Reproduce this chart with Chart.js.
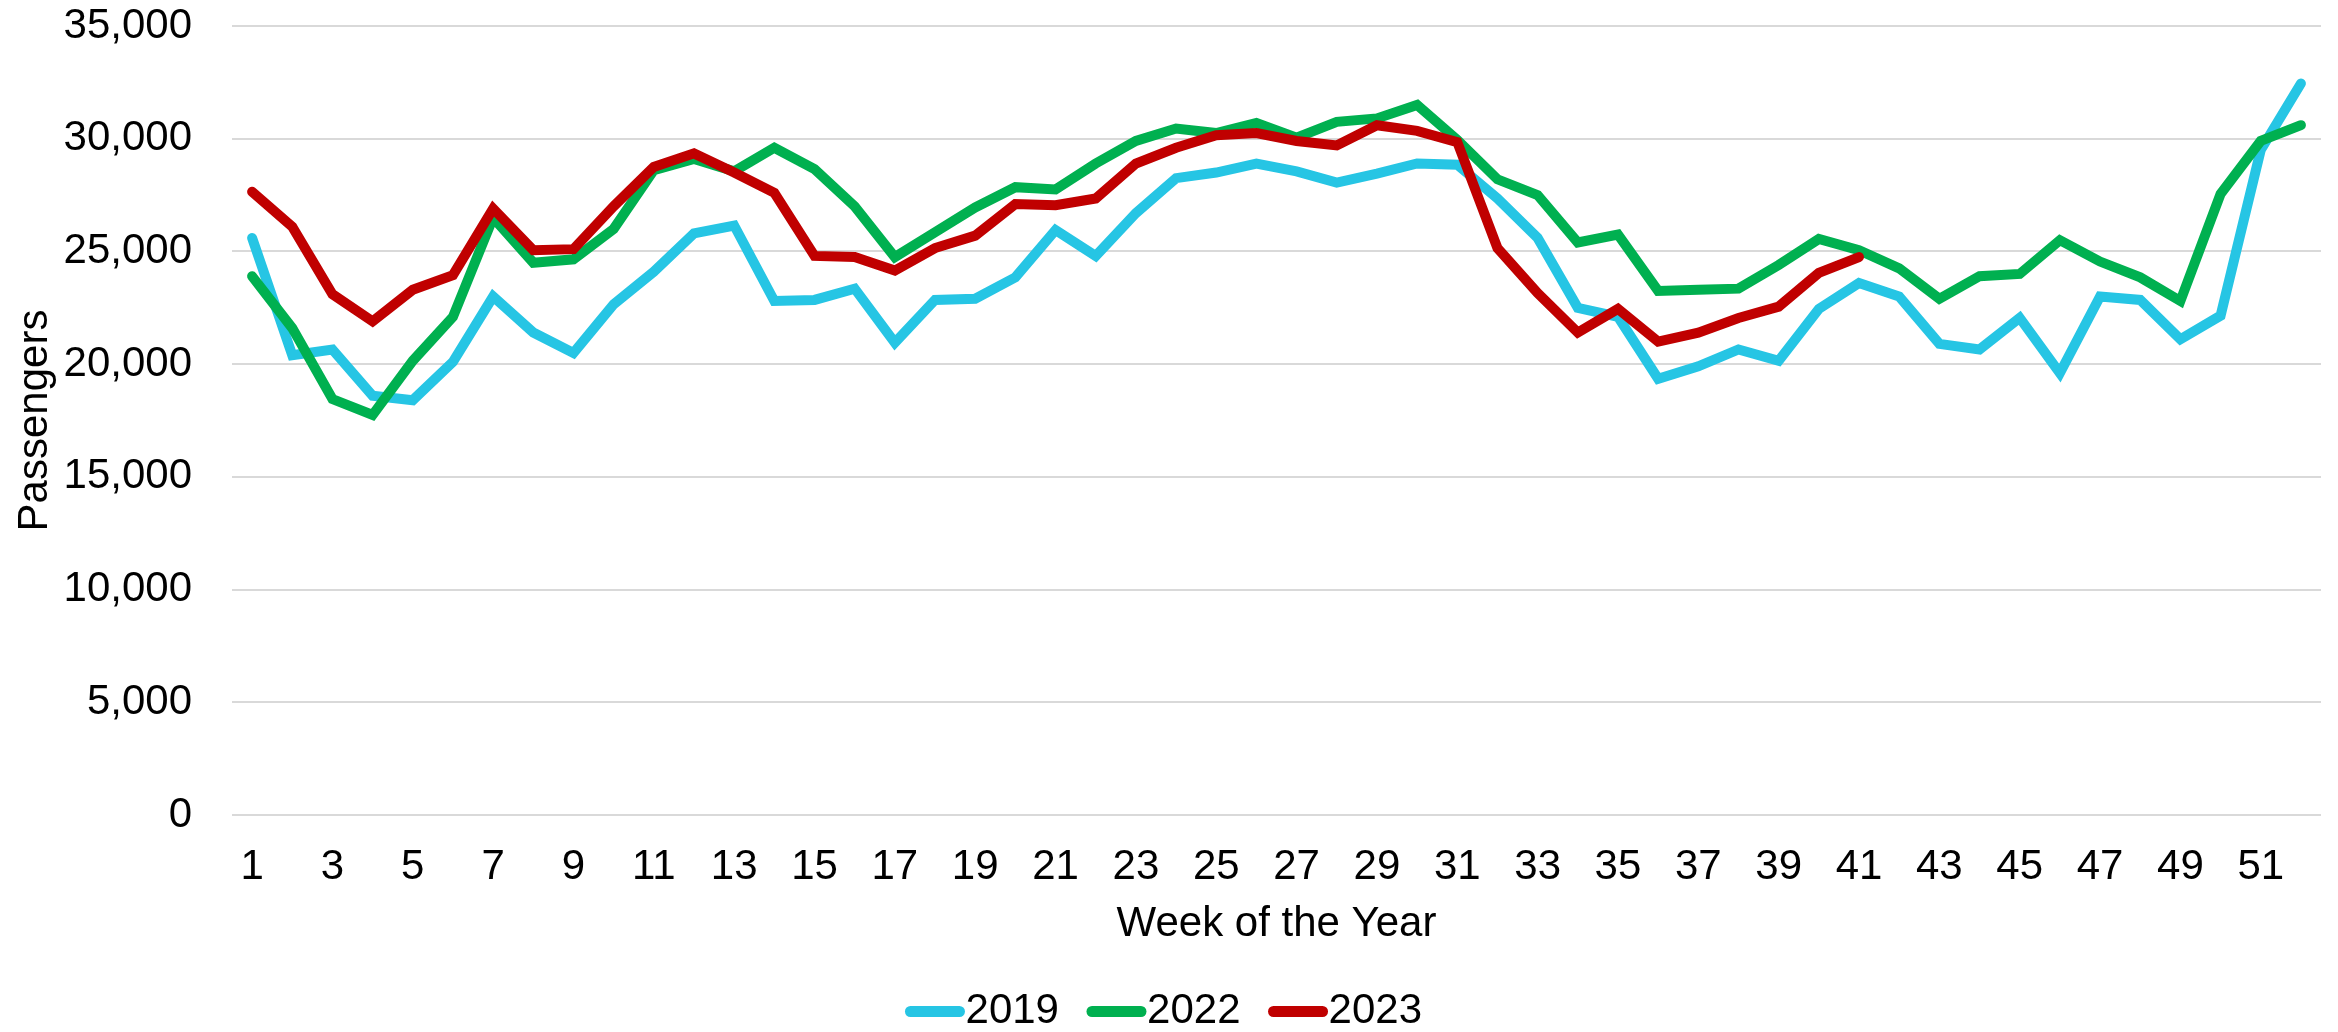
<!DOCTYPE html>
<html>
<head>
<meta charset="utf-8">
<script src="https://cdn.jsdelivr.net/npm/chart.js@4.4.1/dist/chart.umd.min.js"></script>
<style>
  html, body { margin: 0; padding: 0; background: #ffffff; overflow: hidden; }
  #wrap { width: 2338px; height: 1032px; }
</style>
</head>
<body>
<div id="wrap"><canvas id="c" width="2338" height="1032"></canvas></div>
<script>
const weeks = ["1","2","3","4","5","6","7","8","9","10","11","12","13","14","15","16","17","18","19","20","21","22","23","24","25","26","27","28","29","30","31","32","33","34","35","36","37","38","39","40","41","42","43","44","45","46","47","48","49","50","51","52"];

const passengers2019 = [25600, 20400, 20650, 18600, 18400, 20100, 23000, 21400, 20500, 22650, 24100, 25800, 26150, 22800, 22850, 23350, 20950, 22850, 22900, 23850, 25950, 24800, 26700, 28250, 28500, 28900, 28550, 28050, 28450, 28900, 28850, 27350, 25600, 22500, 22100, 19350, 19900, 20650, 20150, 22450, 23600, 23000, 20900, 20650, 22050, 19600, 23000, 22850, 21100, 22150, 29500, 32450];

const passengers2022 = [23900, 21600, 18450, 17750, 20150, 22100, 26500, 24500, 24650, 26000, 28600, 29100, 28550, 29600, 28650, 27000, 24750, 25850, 26950, 27850, 27750, 28900, 29900, 30450, 30250, 30700, 30050, 30750, 30900, 31500, 29950, 28200, 27500, 25400, 25750, 23250, 23300, 23350, 24400, 25550, 25050, 24250, 22900, 23900, 24000, 25500, 24550, 23850, 22800, 27550, 29900, 30600];

const passengers2023 = [27650, 26100, 23100, 21900, 23300, 23950, 26900, 25050, 25100, 27000, 28750, 29350, 28500, 27600, 24800, 24750, 24150, 25150, 25700, 27100, 27050, 27350, 28900, 29600, 30150, 30250, 29900, 29700, 30600, 30350, 29850, 25150, 23150, 21400, 22450, 21000, 21400, 22050, 22550, 24050, 24750];

const seriesNames = ["2019", "2022", "2023"];
const seriesColors = ["#26C5E4", "#00B050", "#C00000"];
const yTicks = [0, 5000, 10000, 15000, 20000, 25000, 30000, 35000];

const FONT = '"Liberation Sans", Arial, sans-serif';
const FS = 42;

const customLegend = {
  id: 'customLegend',
  afterDraw(chart) {
    const ctx = chart.ctx;
    ctx.save();
    ctx.font = FS + 'px ' + FONT;
    const sw = 60, gapText = 0.6, gapItem = 27.5;
    const items = chart.data.datasets.map(d => ({ text: d.label, color: d.borderColor, w: ctx.measureText(d.label).width }));
    let total = 0;
    items.forEach((it, i) => { total += sw + gapText + it.w + (i < items.length - 1 ? gapItem : 0); });
    let x = 1163.5 - total / 2;
    const y = 1011;
    items.forEach(it => {
      ctx.strokeStyle = it.color;
      ctx.lineWidth = 11;
      ctx.lineCap = 'round';
      ctx.beginPath();
      ctx.moveTo(x + 5.5, y + 0.5);
      ctx.lineTo(x + sw - 5.5, y + 0.5);
      ctx.stroke();
      ctx.fillStyle = '#000000';
      ctx.textAlign = 'left';
      ctx.textBaseline = 'middle';
      ctx.fillText(it.text, x + sw + gapText, y);
      x += sw + gapText + it.w + gapItem;
    });
    ctx.restore();
  }
};

const mkDs = (i, data, order) => ({
  label: seriesNames[i],
  data: data,
  borderColor: seriesColors[i],
  backgroundColor: seriesColors[i],
  borderWidth: 10,
  borderCapStyle: 'round',
  borderJoinStyle: 'miter',
  pointRadius: 0,
  pointHoverRadius: 0,
  tension: 0,
  fill: false,
  order: order
});

new Chart(document.getElementById('c'), {
  type: 'line',
  data: {
    labels: weeks,
    datasets: [
      mkDs(0, passengers2019, 2),
      mkDs(1, passengers2022, 1),
      mkDs(2, passengers2023, 0)
    ]
  },
  options: {
    responsive: false,
    animation: false,
    devicePixelRatio: 1,
    events: [],
    layout: { padding: { top: 26, right: 17, bottom: 82, left: 0 } },
    plugins: {
      legend: { display: false },
      tooltip: { enabled: false }
    },
    scales: {
      x: {
        type: 'category',
        offset: true,
        grid: { display: false, drawTicks: false },
        border: { display: false },
        ticks: {
          autoSkip: false,
          maxRotation: 0,
          minRotation: 0,
          padding: 27,
          color: '#000000',
          font: { family: FONT, size: FS },
          callback: function(v, idx) { return idx % 2 === 0 ? weeks[idx] : ''; }
        },
        title: {
          display: true,
          text: 'Week of the Year',
          color: '#000000',
          font: { family: FONT, size: FS },
          padding: { top: 0, bottom: 0 }
        },
        afterFit: (s) => { s.height = 135; s.paddingLeft = 0; s.paddingRight = 0; }
      },
      y: {
        min: 0,
        max: 35000,
        grid: { color: '#D9D9D9', lineWidth: 2, drawTicks: false },
        border: { display: false },
        afterBuildTicks: (s) => { s.ticks = yTicks.map(v => ({ value: v })); },
        ticks: {
          padding: 40,
          color: '#000000',
          font: { family: FONT, size: FS },
          callback: (v) => Number(v).toLocaleString('en-US')
        },
        title: {
          display: true,
          text: 'Passengers',
          color: '#000000',
          font: { family: FONT, size: FS },
          padding: { top: 10, bottom: 0 }
        },
        afterFit: (s) => { s.width = 232; s.paddingTop = 0; s.paddingBottom = 0; }
      }
    }
  },
  plugins: [customLegend]
});
</script>
</body>
</html>
